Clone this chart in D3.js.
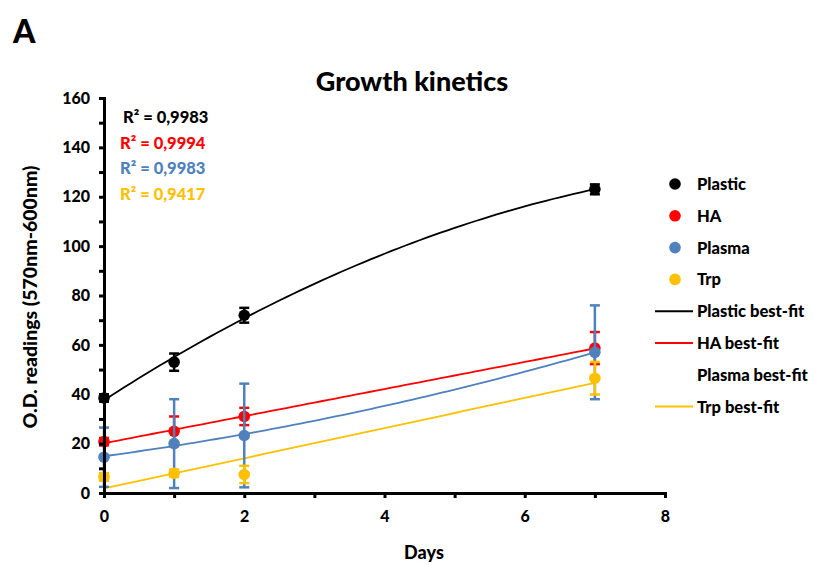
<!DOCTYPE html>
<html>
<head>
<meta charset="utf-8">
<script src="https://cdn.jsdelivr.net/npm/d3@7"></script>
<style>
  html, body { margin: 0; padding: 0; background: #fff; }
  svg { display: block; font-family: Lato, "Open Sans", sans-serif; font-weight: 900; }
</style>
</head>
<body>
<svg id="chart" width="814" height="565"></svg>
<script>
// Measurement days
const days = [0, 1, 2, 7];

// Mean O.D. readings per condition
const plastic = [38.5, 53, 72, 123];
const ha = [20.8, 25, 31, 58.7];
const plasma = [14.5, 20, 23.3, 57];
const trp = [6.5, 8, 7.5, 46.5];

// Error bar half-widths per condition
const plasticErr = [1.5, 3.5, 3, 2];
const haErr = [1.5, 6, 3.5, 6.5];
const plasmaErr = [12, 18, 21, 19];
const trpErr = [1.5, 1.5, 3.5, 6.6];

// Coefficient of determination text for each fit
const r2Labels = ["R² = 0,9983", "R² = 0,9994", "R² = 0,9983", "R² = 0,9417"];

const xTicks = [0, 2, 4, 6, 8];
const yTicks = [0, 20, 40, 60, 80, 100, 120, 140, 160];

const colors = { plastic: "#000000", ha: "#ff0000", plasma: "#4f81bd", trp: "#ffc000" };

const series = [
  { name: "Plastic", values: plastic, err: plasticErr, color: colors.plastic, degree: 2, fitLegend: true },
  { name: "HA", values: ha, err: haErr, color: colors.ha, degree: 1, fitLegend: true },
  { name: "Plasma", values: plasma, err: plasmaErr, color: colors.plasma, degree: 2, fitLegend: false },
  { name: "Trp", values: trp, err: trpErr, color: colors.trp, degree: 1, fitLegend: true }
];

// Least-squares polynomial fit (degree 1 or 2) via normal equations
function polyFit(xs, ys, degree) {
  const n = degree + 1;
  const A = Array.from({ length: n }, () => new Array(n).fill(0));
  const b = new Array(n).fill(0);
  xs.forEach((x, i) => {
    for (let r = 0; r < n; r++) {
      b[r] += ys[i] * Math.pow(x, r);
      for (let c = 0; c < n; c++) A[r][c] += Math.pow(x, r + c);
    }
  });
  for (let i = 0; i < n; i++) {
    let p = i;
    for (let k = i + 1; k < n; k++) if (Math.abs(A[k][i]) > Math.abs(A[p][i])) p = k;
    [A[i], A[p]] = [A[p], A[i]]; [b[i], b[p]] = [b[p], b[i]];
    for (let k = i + 1; k < n; k++) {
      const f = A[k][i] / A[i][i];
      for (let c = i; c < n; c++) A[k][c] -= f * A[i][c];
      b[k] -= f * b[i];
    }
  }
  const coef = new Array(n).fill(0);
  for (let i = n - 1; i >= 0; i--) {
    let s = b[i];
    for (let c = i + 1; c < n; c++) s -= A[i][c] * coef[c];
    coef[i] = s / A[i][i];
  }
  return x => coef.reduce((acc, c, k) => acc + c * Math.pow(x, k), 0);
}

const svg = d3.select("#chart");
const margin = { left: 104, right: 149, top: 98, bottom: 72 };
const W = 814, H = 565;

const x = d3.scaleLinear().domain([0, 8]).range([margin.left, W - margin.right]);
const y = d3.scaleLinear().domain([0, 160]).range([H - margin.bottom, margin.top]);

// Panel letter and title
svg.append("text").attr("x", 13).attr("y", 43).attr("font-size", 32).attr("font-weight", 900).text("A");
svg.append("text").attr("x", 412).attr("y", 91).attr("text-anchor", "middle")
  .attr("font-size", 27).text("Growth kinetics");

// Fit lines
const fitGroup = svg.append("g");
series.forEach(s => {
  const f = polyFit(days, s.values, s.degree);
  const pts = d3.range(0, 7.001, 0.1).map(d => [d, f(d)]);
  fitGroup.append("path")
    .attr("d", d3.line().x(d => x(d[0])).y(d => y(d[1]))(pts))
    .attr("fill", "none").attr("stroke", s.color).attr("stroke-width", 1.8);
});

// Error bars and points
series.forEach(s => {
  const g = svg.append("g");
  days.forEach((d, i) => {
    const v = s.values[i], e = s.err[i];
    g.append("line").attr("x1", x(d)).attr("x2", x(d)).attr("y1", y(v - e)).attr("y2", y(v + e))
      .attr("stroke", s.color).attr("stroke-width", 2.5);
    [v - e, v + e].forEach(c => {
      g.append("line").attr("x1", x(d) - 5).attr("x2", x(d) + 5).attr("y1", y(c)).attr("y2", y(c))
        .attr("stroke", s.color).attr("stroke-width", 2.5);
    });
  });
  g.selectAll("circle").data(days).join("circle")
    .attr("cx", d => x(d)).attr("cy", (d, i) => y(s.values[i])).attr("r", 5.8)
    .attr("fill", s.color);
});

// Axes
const yAxis = d3.axisLeft(y).tickValues(d3.range(0, 161, 10)).tickSize(5).tickFormat(d => yTicks.includes(d) ? d : "");
const yg = svg.append("g").attr("transform", `translate(${x(0)},0)`).call(yAxis);
yg.select(".domain").attr("stroke-width", 3);
yg.selectAll(".tick line").attr("stroke-width", 3);
yg.selectAll(".tick text").attr("font-size", 16).attr("font-weight", 900).attr("font-family", "Lato, sans-serif").attr("x", -14);

const xAxis = d3.axisBottom(d3.scaleLinear().domain([0, 8]).range([x(0), x(8)])).tickValues(d3.range(0, 9, 1)).tickSize(5)
  .tickFormat(d => xTicks.includes(d) ? d : "");
const xg = svg.append("g").attr("transform", `translate(0,${y(0)})`).call(xAxis);
xg.select(".domain").attr("stroke-width", 3);
xg.selectAll(".tick line").attr("stroke-width", 3);
xg.selectAll(".tick text").attr("font-size", 16).attr("font-weight", 900).attr("font-family", "Lato, sans-serif").attr("y", 18);

// Axis titles
svg.append("text").attr("transform", "translate(37,297) rotate(-90)").attr("text-anchor", "middle")
  .attr("font-size", 19.5).text("O.D. readings (570nm-600nm)");
svg.append("text").attr("x", 424).attr("y", 559).attr("text-anchor", "middle").attr("font-size", 18).text("Days");

// R² annotations
r2Labels.forEach((t, i) => {
  svg.append("text").attr("x", i === 0 ? 123 : 120).attr("y", 123 + i * 25.5)
    .attr("font-size", 16.5).attr("fill", series[i].color).text(t);
});

// Legend
const legend = svg.append("g");
series.forEach((s, i) => {
  const ly = 184 + i * 31.8;
  legend.append("circle").attr("cx", 675).attr("cy", ly).attr("r", 5.8).attr("fill", s.color);
  legend.append("text").attr("x", 697).attr("y", ly + 6).attr("font-size", 16.5).text(s.name);
});
series.forEach((s, i) => {
  const ly = 184 + (i + 4) * 31.8;
  if (s.fitLegend) {
    legend.append("line").attr("x1", 655).attr("x2", 693).attr("y1", ly).attr("y2", ly)
      .attr("stroke", s.color).attr("stroke-width", 2);
  }
  legend.append("text").attr("x", 697).attr("y", ly + 6).attr("font-size", 16.5).text(s.name + " best-fit");
});
</script>
</body>
</html>
